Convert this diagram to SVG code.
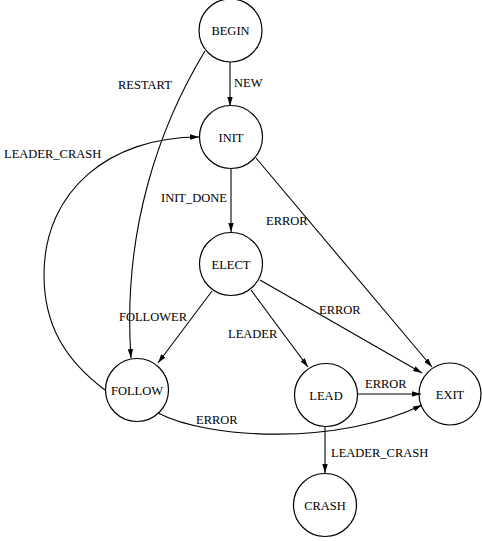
<svg xmlns="http://www.w3.org/2000/svg" width="482" height="541" viewBox="0 0 482 541">
<style>
  .node circle { fill: none; stroke: #000; stroke-width: 1.2; }
  .node text { font-family: "Liberation Serif", "Times New Roman", serif; font-size: 12.5px; text-anchor: middle; fill: #000; }
  .edges path { fill: none; stroke: #000; stroke-width: 1.1; marker-end: url(#arrow); }
  .lbl { font-family: "Liberation Serif", "Times New Roman", serif; font-size: 12.5px; fill: #000; }
</style>
<defs>
  <marker id="arrow" viewBox="0 0 10 6" refX="10" refY="3" markerWidth="9" markerHeight="5.4" markerUnits="userSpaceOnUse" orient="auto">
    <path d="M0,0 L10,3 L0,6 Z" fill="#000"/>
  </marker>
</defs>
<rect width="482" height="541" fill="#fff"/>
<g class="edges">
  <path d="M230,62 L230,106"/>
  <path d="M231,168 L231,232"/>
  <path d="M256,158 L432,367"/>
  <path d="M260,280 L422,373"/>
  <path d="M251,290 L308,367"/>
  <path d="M212,291 L158,363"/>
  <path d="M358,394 L421,394"/>
  <path d="M325,427 L325,473"/>
  <path d="M205,51 C160,125 122,230 131,358"/>
  <path d="M105,390 C65,360 44,325 44,275 C44,190 110,137 199,137"/>
  <path d="M158,413 C210,440 340,445 422,405"/>
  <text class="lbl" x="234" y="87">NEW</text>
  <text class="lbl" x="161" y="202">INIT_DONE</text>
  <text class="lbl" x="266" y="225">ERROR</text>
  <text class="lbl" x="319" y="314">ERROR</text>
  <text class="lbl" x="228" y="338">LEADER</text>
  <text class="lbl" x="119" y="321">FOLLOWER</text>
  <text class="lbl" x="365" y="388">ERROR</text>
  <text class="lbl" x="196" y="424">ERROR</text>
  <text class="lbl" x="331" y="457">LEADER_CRASH</text>
  <text class="lbl" x="4" y="158">LEADER_CRASH</text>
  <text class="lbl" x="118" y="89">RESTART</text>
</g>
<g id="BEGIN" class="node"><circle cx="230.5" cy="30.5" r="31.5"/><text x="230.5" y="35">BEGIN</text></g>
<g id="INIT" class="node"><circle cx="231" cy="137" r="31.5"/><text x="231" y="141.5">INIT</text></g>
<g id="ELECT" class="node"><circle cx="231" cy="264" r="31.5"/><text x="231" y="268.5">ELECT</text></g>
<g id="FOLLOW" class="node"><circle cx="137" cy="390" r="31.5"/><text x="137" y="394.5">FOLLOW</text></g>
<g id="LEAD" class="node"><circle cx="326" cy="395" r="31.5"/><text x="326" y="399.5">LEAD</text></g>
<g id="EXIT" class="node"><circle cx="450" cy="394" r="31"/><text x="450" y="398.5">EXIT</text></g>
<g id="CRASH" class="node"><circle cx="325" cy="505" r="31.5"/><text x="325" y="509.5">CRASH</text></g>
</svg>
